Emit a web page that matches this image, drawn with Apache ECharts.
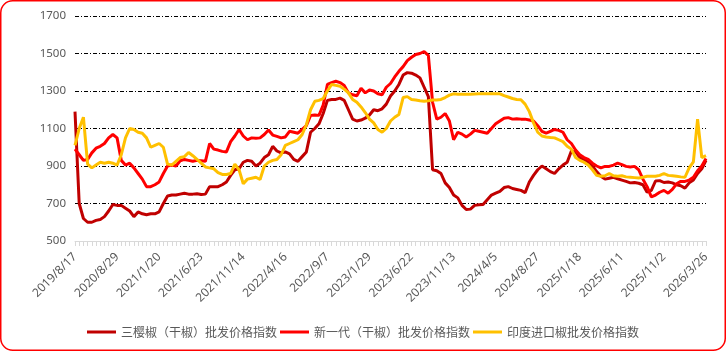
<!DOCTYPE html>
<html>
<head>
<meta charset="utf-8">
<script src="https://cdn.jsdelivr.net/npm/echarts@6/dist/echarts.min.js"></script>
<style>
  html, body { margin: 0; padding: 0; background: #fff; }
  #chart { width: 726px; height: 351px; }
</style>
</head>
<body>
<div id="chart"></div>
<script>
// 轴标签日期（每隔 10 个点一个）
let tickDates = ['2019/8/17', '2020/8/29', '2021/1/20', '2021/6/23', '2021/11/14', '2022/4/16', '2022/9/7',
    '2023/1/29', '2023/6/22', '2023/11/13', '2024/4/5', '2024/8/27', '2025/1/18', '2025/6/11', '2025/11/2', '2026/3/26'];
let STEP = 10;

let sanying = [
    1190, 700, 620, 600, 600, 610, 615, 630, 660, 695, 690, 690, 675, 660, 630, 655, 645, 640, 645, 645,
    655, 700, 740, 745, 745, 750, 755, 750, 750, 752, 748, 750, 790, 790, 790, 800, 815, 850, 880, 885,
    920, 930, 925, 900, 915, 945, 960, 1005, 980, 970, 975, 965, 935, 925, 950, 975, 1080, 1100, 1125, 1180,
    1250, 1255, 1255, 1262, 1250, 1200, 1150, 1140, 1145, 1155, 1172, 1200, 1195, 1205, 1230, 1273, 1300, 1335, 1385, 1398,
    1395, 1385, 1370, 1320, 1270, 880, 875, 860, 810, 785, 745, 730, 690, 668, 670, 690, 693, 695, 720, 745,
    755, 765, 785, 790, 780, 775, 770, 758, 815, 850, 880, 900, 885, 870, 860, 885, 905, 920, 980, 975,
    945, 935, 920, 900, 870, 845, 830, 835, 840, 832, 825, 818, 810, 812, 808, 800, 760, 770, 820, 822,
    812, 815, 810, 800, 795, 782, 810, 825, 860, 885, 930
];
let xinyidai = [
    990, 960, 930, 935, 970, 995, 1005, 1020, 1050, 1068, 1050, 930, 905, 915, 890, 860, 830, 790, 790, 800,
    815, 860, 900, 905, 900, 928, 935, 930, 925, 930, 928, 925, 1020, 990, 985, 978, 975, 1030, 1060, 1095,
    1060, 1040, 1050, 1048, 1050, 1068, 1092, 1065, 1058, 1050, 1055, 1085, 1080, 1075, 1095, 1115, 1170, 1172, 1170, 1225,
    1335, 1345, 1352, 1345, 1330, 1290, 1280, 1275, 1315, 1290, 1305, 1300, 1285, 1280, 1320, 1340, 1375, 1405, 1430, 1462,
    1480, 1495, 1500, 1510, 1490, 1240, 1150, 1160, 1180, 1140, 1040, 1080, 1070, 1055, 1070, 1090, 1085, 1080, 1075, 1100,
    1125, 1140, 1155, 1158, 1150, 1152, 1150, 1150, 1145, 1140, 1115, 1085, 1075, 1085, 1095, 1090, 1080, 1040, 1020, 985,
    960, 945, 935, 915, 900, 890, 898, 898, 905, 915, 907, 898, 895, 898, 880, 830, 790, 735, 745, 760,
    770, 755, 775, 805, 818, 818, 825, 840, 875, 900, 940
];
let yindu = [
    1010, 1100, 1160, 910, 890, 905, 920, 915, 920, 915, 905, 960, 1050, 1100, 1095, 1080, 1075, 1050, 1000, 1010,
    1020, 1000, 910, 905, 925, 945, 950, 972, 955, 935, 915, 895, 890, 885, 865, 855, 855, 860, 910, 880,
    805, 830, 835, 840, 828, 900, 920, 930, 935, 960, 1010, 1020, 1030, 1040, 1068, 1120, 1200, 1245, 1250, 1260,
    1300, 1335, 1330, 1325, 1310, 1290, 1255, 1240, 1215, 1185, 1150, 1130, 1095, 1080, 1100, 1140, 1160, 1175, 1265, 1270,
    1255, 1252, 1248, 1245, 1248, 1252, 1252, 1255, 1265, 1278, 1285, 1283, 1283, 1283, 1283, 1284, 1285, 1285, 1285, 1285,
    1286, 1285, 1275, 1268, 1260, 1255, 1253, 1230, 1190, 1130, 1080, 1060, 1055, 1052, 1050, 1040, 1030, 1005, 990, 945,
    930, 920, 905, 880, 850, 845, 848, 860, 848, 845, 848, 842, 840, 838, 836, 840, 845, 845, 845, 850,
    860, 850, 848, 845, 842, 840, 890, 922, 1150, 945, 955
];

let categories = [];
tickDates.forEach((d, k) => {
    categories.push(d);
    if (k < tickDates.length - 1) for (let j = 1; j < STEP; j++) categories.push('');
});

let chart = echarts.init(document.getElementById('chart'));
let option = {
    backgroundColor: '#fff',
    textStyle: { fontFamily: 'Noto Sans, Noto Sans CJK SC' },
    animation: false,
    color: ['#C00000', '#FF0000', '#FFC000'],
    graphic: [{
        type: 'rect',
        shape: { x: 0.75, y: 0.75, width: 724.5, height: 349.5, r: 12 },
        style: { fill: 'none', stroke: '#FF0000', lineWidth: 1.5 },
        silent: true
    }],
    grid: { left: 75, right: 20, top: 16, bottom: 110 },
    legend: {
        top: 321,
        left: 'center',
        icon: 'rect',
        itemWidth: 29,
        itemHeight: 3,
        itemGap: 3,
        textStyle: { color: '#595959', fontSize: 12, fontFamily: 'Noto Sans CJK SC' },
        data: ['三樱椒（干椒）批发价格指数', '新一代（干椒）批发价格指数', '印度进口椒批发价格指数']
    },
    xAxis: {
        type: 'category',
        data: categories,
        boundaryGap: false,
        axisLine: { lineStyle: { color: '#D9D9D9', width: 1 } },
        axisTick: { show: true, interval: 0, length: 5, lineStyle: { color: '#D9D9D9', width: 1 } },
        axisLabel: { interval: STEP - 1, rotate: 45, color: '#595959', fontSize: 12, margin: 14 },
        splitLine: { show: false }
    },
    yAxis: {
        type: 'value',
        min: 500,
        max: 1700,
        interval: 200,
        axisLine: { show: false },
        axisTick: { show: false },
        axisLabel: { color: '#595959', fontSize: 11.5, margin: 9, formatter: v => String(v) },
        splitLine: {
            showMinLine: false,
            lineStyle: { color: '#000', width: 1, type: [4, 2, 1, 2] }
        }
    },
    series: [
        { name: '三樱椒（干椒）批发价格指数', type: 'line', data: sanying, symbol: 'none', lineStyle: { width: 3 } },
        { name: '新一代（干椒）批发价格指数', type: 'line', data: xinyidai, symbol: 'none', lineStyle: { width: 3 } },
        { name: '印度进口椒批发价格指数', type: 'line', data: yindu, symbol: 'none', lineStyle: { width: 3 } }
    ]
};
chart.setOption(option);
</script>
</body>
</html>
